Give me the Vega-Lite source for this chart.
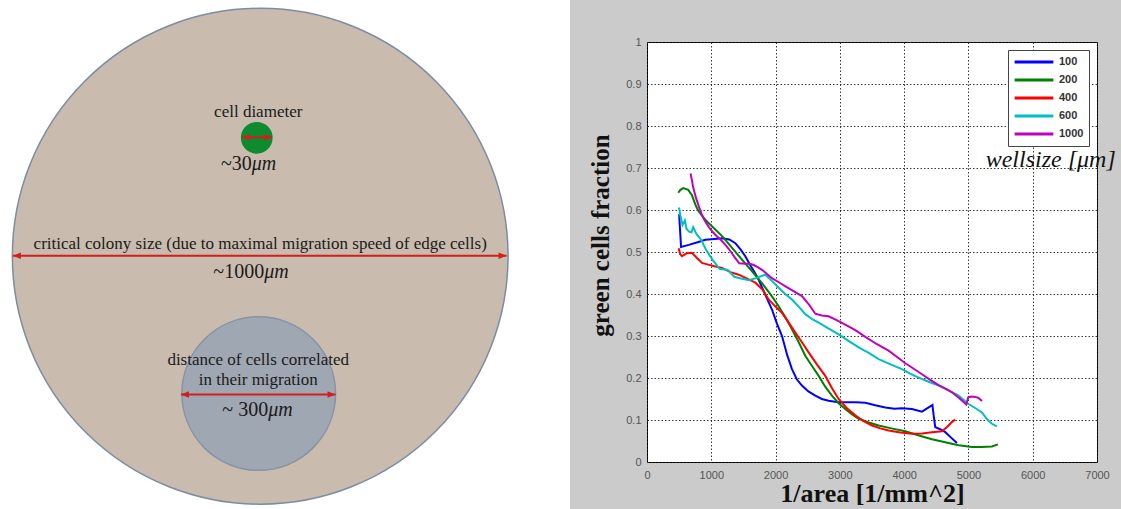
{
  "$schema": "https://vega.github.io/schema/vega-lite/v6.json",
  "background": "#cbcbcb",
  "padding": {"left": 0, "top": 0, "right": 4, "bottom": 0},
  "spacing": 18,
  "resolve": {"legend": {"color": "independent", "fill": "independent", "stroke": "independent", "shape": "independent", "size": "independent"}},
  "datasets": {
    "shapes": [
      {"kind": "colony", "x": 0, "y": 0, "diameter": 1000},
      {"kind": "correlated", "x": -3, "y": -277, "diameter": 310},
      {"kind": "cell", "x": -7, "y": 239, "diameter": 61}
    ],
    "arrows": [
      {"name": "cell", "x": -37, "x2": 24, "y": 240},
      {"name": "colony", "x": -499, "x2": 497, "y": 1},
      {"name": "correlated", "x": -160, "x2": 152, "y": -279}
    ],
    "heads": [
      {"end": "left", "x": -37, "y": 240},
      {"end": "right", "x": 24, "y": 240},
      {"end": "left", "x": -499, "y": 1},
      {"end": "right", "x": 497, "y": 1},
      {"end": "left", "x": -160, "y": -279},
      {"end": "right", "x": 152, "y": -279}
    ],
    "labels": [
      {"x": -4, "y": 292, "text": "cell diameter"},
      {"x": 0, "y": 25, "text": "critical colony size (due to maximal migration speed of edge cells)"},
      {"x": -4, "y": -209, "text": "distance of cells correlated"},
      {"x": -4, "y": -250, "text": "in their migration"}
    ],
    "math": [
      {"x": -17, "y": 186, "num": "~30", "unit": "μm"},
      {"x": 8, "y": -32, "num": "~1000", "unit": "μm"},
      {"x": 16, "y": -310, "num": "~ 300", "unit": "μm"}
    ],
    "curves": [
      {"wellsize": "100", "x": 500, "y": 0.59}, {"wellsize": "100", "x": 515, "y": 0.55}, {"wellsize": "100", "x": 530, "y": 0.512},
      {"wellsize": "100", "x": 650, "y": 0.517}, {"wellsize": "100", "x": 800, "y": 0.524}, {"wellsize": "100", "x": 907, "y": 0.529},
      {"wellsize": "100", "x": 1050, "y": 0.531}, {"wellsize": "100", "x": 1166, "y": 0.533}, {"wellsize": "100", "x": 1280, "y": 0.53},
      {"wellsize": "100", "x": 1374, "y": 0.521}, {"wellsize": "100", "x": 1460, "y": 0.505}, {"wellsize": "100", "x": 1529, "y": 0.49},
      {"wellsize": "100", "x": 1600, "y": 0.47}, {"wellsize": "100", "x": 1680, "y": 0.45}, {"wellsize": "100", "x": 1737, "y": 0.434},
      {"wellsize": "100", "x": 1850, "y": 0.395}, {"wellsize": "100", "x": 1944, "y": 0.363}, {"wellsize": "100", "x": 2020, "y": 0.33},
      {"wellsize": "100", "x": 2100, "y": 0.3}, {"wellsize": "100", "x": 2180, "y": 0.255}, {"wellsize": "100", "x": 2255, "y": 0.221},
      {"wellsize": "100", "x": 2330, "y": 0.197}, {"wellsize": "100", "x": 2410, "y": 0.182}, {"wellsize": "100", "x": 2510, "y": 0.168},
      {"wellsize": "100", "x": 2618, "y": 0.158}, {"wellsize": "100", "x": 2720, "y": 0.15}, {"wellsize": "100", "x": 2825, "y": 0.146},
      {"wellsize": "100", "x": 2950, "y": 0.143}, {"wellsize": "100", "x": 3084, "y": 0.142}, {"wellsize": "100", "x": 3250, "y": 0.142},
      {"wellsize": "100", "x": 3396, "y": 0.141}, {"wellsize": "100", "x": 3550, "y": 0.135}, {"wellsize": "100", "x": 3707, "y": 0.13},
      {"wellsize": "100", "x": 3850, "y": 0.127}, {"wellsize": "100", "x": 3966, "y": 0.128}, {"wellsize": "100", "x": 4121, "y": 0.126},
      {"wellsize": "100", "x": 4277, "y": 0.12}, {"wellsize": "100", "x": 4400, "y": 0.132}, {"wellsize": "100", "x": 4440, "y": 0.136},
      {"wellsize": "100", "x": 4460, "y": 0.11}, {"wellsize": "100", "x": 4484, "y": 0.083}, {"wellsize": "100", "x": 4560, "y": 0.078},
      {"wellsize": "100", "x": 4640, "y": 0.071}, {"wellsize": "100", "x": 4730, "y": 0.058}, {"wellsize": "100", "x": 4821, "y": 0.045},

      {"wellsize": "200", "x": 487, "y": 0.641}, {"wellsize": "200", "x": 520, "y": 0.648}, {"wellsize": "200", "x": 564, "y": 0.652},
      {"wellsize": "200", "x": 641, "y": 0.648}, {"wellsize": "200", "x": 700, "y": 0.635}, {"wellsize": "200", "x": 760, "y": 0.61},
      {"wellsize": "200", "x": 795, "y": 0.599}, {"wellsize": "200", "x": 872, "y": 0.583}, {"wellsize": "200", "x": 950, "y": 0.57},
      {"wellsize": "200", "x": 1026, "y": 0.559}, {"wellsize": "200", "x": 1179, "y": 0.536}, {"wellsize": "200", "x": 1333, "y": 0.508},
      {"wellsize": "200", "x": 1487, "y": 0.48}, {"wellsize": "200", "x": 1641, "y": 0.453}, {"wellsize": "200", "x": 1795, "y": 0.425},
      {"wellsize": "200", "x": 1949, "y": 0.393}, {"wellsize": "200", "x": 2048, "y": 0.371}, {"wellsize": "200", "x": 2150, "y": 0.345},
      {"wellsize": "200", "x": 2255, "y": 0.316}, {"wellsize": "200", "x": 2360, "y": 0.285}, {"wellsize": "200", "x": 2462, "y": 0.253},
      {"wellsize": "200", "x": 2570, "y": 0.228}, {"wellsize": "200", "x": 2670, "y": 0.205}, {"wellsize": "200", "x": 2770, "y": 0.18},
      {"wellsize": "200", "x": 2877, "y": 0.158}, {"wellsize": "200", "x": 2980, "y": 0.14}, {"wellsize": "200", "x": 3084, "y": 0.126},
      {"wellsize": "200", "x": 3190, "y": 0.113}, {"wellsize": "200", "x": 3292, "y": 0.103}, {"wellsize": "200", "x": 3450, "y": 0.094},
      {"wellsize": "200", "x": 3603, "y": 0.087}, {"wellsize": "200", "x": 3800, "y": 0.08}, {"wellsize": "200", "x": 4018, "y": 0.073},
      {"wellsize": "200", "x": 4230, "y": 0.063}, {"wellsize": "200", "x": 4432, "y": 0.054}, {"wellsize": "200", "x": 4640, "y": 0.047},
      {"wellsize": "200", "x": 4847, "y": 0.04}, {"wellsize": "200", "x": 5054, "y": 0.036}, {"wellsize": "200", "x": 5200, "y": 0.036},
      {"wellsize": "200", "x": 5365, "y": 0.037}, {"wellsize": "200", "x": 5458, "y": 0.042},

      {"wellsize": "400", "x": 492, "y": 0.509}, {"wellsize": "400", "x": 515, "y": 0.495}, {"wellsize": "400", "x": 544, "y": 0.49},
      {"wellsize": "400", "x": 620, "y": 0.497}, {"wellsize": "400", "x": 700, "y": 0.498}, {"wellsize": "400", "x": 780, "y": 0.485},
      {"wellsize": "400", "x": 855, "y": 0.474}, {"wellsize": "400", "x": 950, "y": 0.47}, {"wellsize": "400", "x": 1050, "y": 0.466},
      {"wellsize": "400", "x": 1166, "y": 0.462}, {"wellsize": "400", "x": 1300, "y": 0.452}, {"wellsize": "400", "x": 1426, "y": 0.446},
      {"wellsize": "400", "x": 1550, "y": 0.437}, {"wellsize": "400", "x": 1685, "y": 0.427}, {"wellsize": "400", "x": 1800, "y": 0.41},
      {"wellsize": "400", "x": 1892, "y": 0.387}, {"wellsize": "400", "x": 2000, "y": 0.37}, {"wellsize": "400", "x": 2100, "y": 0.355},
      {"wellsize": "400", "x": 2200, "y": 0.333}, {"wellsize": "400", "x": 2307, "y": 0.308}, {"wellsize": "400", "x": 2410, "y": 0.285},
      {"wellsize": "400", "x": 2514, "y": 0.261}, {"wellsize": "400", "x": 2640, "y": 0.233}, {"wellsize": "400", "x": 2773, "y": 0.205},
      {"wellsize": "400", "x": 2880, "y": 0.175}, {"wellsize": "400", "x": 2981, "y": 0.15}, {"wellsize": "400", "x": 3110, "y": 0.128},
      {"wellsize": "400", "x": 3240, "y": 0.111}, {"wellsize": "400", "x": 3370, "y": 0.097}, {"wellsize": "400", "x": 3499, "y": 0.087},
      {"wellsize": "400", "x": 3630, "y": 0.08}, {"wellsize": "400", "x": 3758, "y": 0.075}, {"wellsize": "400", "x": 3940, "y": 0.07},
      {"wellsize": "400", "x": 4121, "y": 0.067}, {"wellsize": "400", "x": 4280, "y": 0.068}, {"wellsize": "400", "x": 4432, "y": 0.071},
      {"wellsize": "400", "x": 4588, "y": 0.073}, {"wellsize": "400", "x": 4640, "y": 0.08}, {"wellsize": "400", "x": 4692, "y": 0.087},
      {"wellsize": "400", "x": 4740, "y": 0.095}, {"wellsize": "400", "x": 4795, "y": 0.101},

      {"wellsize": "600", "x": 498, "y": 0.606}, {"wellsize": "600", "x": 520, "y": 0.585}, {"wellsize": "600", "x": 554, "y": 0.565},
      {"wellsize": "600", "x": 590, "y": 0.575}, {"wellsize": "600", "x": 615, "y": 0.555}, {"wellsize": "600", "x": 660, "y": 0.548},
      {"wellsize": "600", "x": 692, "y": 0.547}, {"wellsize": "600", "x": 718, "y": 0.559}, {"wellsize": "600", "x": 769, "y": 0.543},
      {"wellsize": "600", "x": 846, "y": 0.528}, {"wellsize": "600", "x": 923, "y": 0.504}, {"wellsize": "600", "x": 1026, "y": 0.48},
      {"wellsize": "600", "x": 1128, "y": 0.46}, {"wellsize": "600", "x": 1256, "y": 0.457}, {"wellsize": "600", "x": 1359, "y": 0.441},
      {"wellsize": "600", "x": 1462, "y": 0.437}, {"wellsize": "600", "x": 1590, "y": 0.433}, {"wellsize": "600", "x": 1718, "y": 0.439},
      {"wellsize": "600", "x": 1840, "y": 0.446}, {"wellsize": "600", "x": 1950, "y": 0.43}, {"wellsize": "600", "x": 2048, "y": 0.415},
      {"wellsize": "600", "x": 2150, "y": 0.4}, {"wellsize": "600", "x": 2255, "y": 0.387}, {"wellsize": "600", "x": 2360, "y": 0.37},
      {"wellsize": "600", "x": 2462, "y": 0.352}, {"wellsize": "600", "x": 2570, "y": 0.34}, {"wellsize": "600", "x": 2670, "y": 0.332},
      {"wellsize": "600", "x": 2820, "y": 0.318}, {"wellsize": "600", "x": 2981, "y": 0.304}, {"wellsize": "600", "x": 3140, "y": 0.288},
      {"wellsize": "600", "x": 3292, "y": 0.273}, {"wellsize": "600", "x": 3450, "y": 0.26}, {"wellsize": "600", "x": 3603, "y": 0.245},
      {"wellsize": "600", "x": 3780, "y": 0.233}, {"wellsize": "600", "x": 3966, "y": 0.221}, {"wellsize": "600", "x": 4100, "y": 0.21},
      {"wellsize": "600", "x": 4225, "y": 0.201}, {"wellsize": "600", "x": 4380, "y": 0.191}, {"wellsize": "600", "x": 4536, "y": 0.182},
      {"wellsize": "600", "x": 4700, "y": 0.17}, {"wellsize": "600", "x": 4847, "y": 0.158}, {"wellsize": "600", "x": 5002, "y": 0.138},
      {"wellsize": "600", "x": 5110, "y": 0.128}, {"wellsize": "600", "x": 5210, "y": 0.118}, {"wellsize": "600", "x": 5300, "y": 0.1},
      {"wellsize": "600", "x": 5365, "y": 0.091}, {"wellsize": "600", "x": 5443, "y": 0.085},

      {"wellsize": "1000", "x": 677, "y": 0.687}, {"wellsize": "1000", "x": 700, "y": 0.67}, {"wellsize": "1000", "x": 718, "y": 0.654},
      {"wellsize": "1000", "x": 760, "y": 0.63}, {"wellsize": "1000", "x": 810, "y": 0.607}, {"wellsize": "1000", "x": 850, "y": 0.59},
      {"wellsize": "1000", "x": 897, "y": 0.575}, {"wellsize": "1000", "x": 960, "y": 0.56}, {"wellsize": "1000", "x": 1026, "y": 0.547},
      {"wellsize": "1000", "x": 1090, "y": 0.537}, {"wellsize": "1000", "x": 1154, "y": 0.528}, {"wellsize": "1000", "x": 1230, "y": 0.515},
      {"wellsize": "1000", "x": 1308, "y": 0.5}, {"wellsize": "1000", "x": 1370, "y": 0.486}, {"wellsize": "1000", "x": 1436, "y": 0.473},
      {"wellsize": "1000", "x": 1538, "y": 0.472}, {"wellsize": "1000", "x": 1600, "y": 0.472}, {"wellsize": "1000", "x": 1660, "y": 0.469},
      {"wellsize": "1000", "x": 1720, "y": 0.464}, {"wellsize": "1000", "x": 1795, "y": 0.457}, {"wellsize": "1000", "x": 1870, "y": 0.447},
      {"wellsize": "1000", "x": 1949, "y": 0.437}, {"wellsize": "1000", "x": 2050, "y": 0.428}, {"wellsize": "1000", "x": 2154, "y": 0.418},
      {"wellsize": "1000", "x": 2280, "y": 0.407}, {"wellsize": "1000", "x": 2410, "y": 0.395}, {"wellsize": "1000", "x": 2520, "y": 0.375},
      {"wellsize": "1000", "x": 2618, "y": 0.353}, {"wellsize": "1000", "x": 2720, "y": 0.349}, {"wellsize": "1000", "x": 2825, "y": 0.347},
      {"wellsize": "1000", "x": 2950, "y": 0.338}, {"wellsize": "1000", "x": 3084, "y": 0.327}, {"wellsize": "1000", "x": 3240, "y": 0.314},
      {"wellsize": "1000", "x": 3396, "y": 0.298}, {"wellsize": "1000", "x": 3570, "y": 0.281}, {"wellsize": "1000", "x": 3758, "y": 0.265},
      {"wellsize": "1000", "x": 3890, "y": 0.25}, {"wellsize": "1000", "x": 4018, "y": 0.235}, {"wellsize": "1000", "x": 4150, "y": 0.222},
      {"wellsize": "1000", "x": 4277, "y": 0.209}, {"wellsize": "1000", "x": 4400, "y": 0.196}, {"wellsize": "1000", "x": 4536, "y": 0.183},
      {"wellsize": "1000", "x": 4650, "y": 0.174}, {"wellsize": "1000", "x": 4743, "y": 0.166}, {"wellsize": "1000", "x": 4850, "y": 0.153},
      {"wellsize": "1000", "x": 4924, "y": 0.143}, {"wellsize": "1000", "x": 4967, "y": 0.137}, {"wellsize": "1000", "x": 4997, "y": 0.154},
      {"wellsize": "1000", "x": 5050, "y": 0.156}, {"wellsize": "1000", "x": 5112, "y": 0.155}, {"wellsize": "1000", "x": 5160, "y": 0.152},
      {"wellsize": "1000", "x": 5211, "y": 0.145}
    ]
  },
  "hconcat": [
    {
      "width": 570,
      "height": 509,
      "view": {"fill": "white", "stroke": null},
      "encoding": {
        "x": {"field": "x", "type": "quantitative", "scale": {"domain": [-525, 625]}, "axis": null},
        "y": {"field": "y", "type": "quantitative", "scale": {"domain": [-510, 517]}, "axis": null}
      },
      "layer": [
        {
          "data": {"name": "shapes"},
          "mark": {"type": "point", "shape": "circle", "filled": true, "opacity": 1, "strokeWidth": 1.5},
          "encoding": {
            "size": {"field": "diameter", "type": "quantitative", "scale": {"type": "pow", "exponent": 2, "domain": [0, 1000], "range": [0, 245700]}, "legend": null},
            "fill": {"field": "kind", "type": "nominal", "scale": {"domain": ["colony", "correlated", "cell"], "range": ["#c9bcaf", "#9fa7b3", "#0f8b2f"]}, "legend": null},
            "stroke": {"field": "kind", "type": "nominal", "scale": {"domain": ["colony", "correlated", "cell"], "range": ["#7b8ca3", "#8593a6", "#0f8b2f"]}, "legend": null}
          }
        },
        {
          "data": {"name": "arrows"},
          "mark": {"type": "rule", "color": "#d41e1e", "strokeWidth": 2},
          "encoding": {"x2": {"field": "x2"}}
        },
        {
          "data": {"name": "heads"},
          "mark": {"type": "point", "filled": true, "opacity": 1, "size": 64, "color": "#d41e1e"},
          "encoding": {
            "shape": {"field": "end", "type": "nominal", "scale": {"domain": ["left", "right"], "range": ["M0,0L2,-0.8L2,0.8Z", "M0,0L-2,-0.8L-2,0.8Z"]}, "legend": null}
          }
        },
        {
          "data": {"name": "labels"},
          "mark": {"type": "text", "font": "Liberation Serif", "fontSize": 17, "color": "#1a1a1a", "align": "center", "baseline": "middle"},
          "encoding": {"text": {"field": "text"}}
        },
        {
          "data": {"name": "math"},
          "mark": {"type": "text", "font": "Liberation Serif", "fontSize": 20, "color": "#1a1a1a", "align": "right", "baseline": "middle"},
          "encoding": {"text": {"field": "num"}}
        },
        {
          "data": {"name": "math"},
          "mark": {"type": "text", "font": "Liberation Serif", "fontStyle": "italic", "fontSize": 20, "color": "#1a1a1a", "align": "left", "baseline": "middle"},
          "encoding": {"text": {"field": "unit"}}
        }
      ]
    },
    {
      "spacing": 0,
      "resolve": {"legend": {"color": "independent"}},
      "vconcat": [
        {
          "width": 450,
          "height": 35,
          "view": {"stroke": null, "fill": null},
          "data": {"values": []},
          "mark": "text"
        },
        {
          "width": 450,
          "height": 420,
          "view": {"fill": "white", "stroke": "#000000", "strokeWidth": 1},
          "layer": [
            {
              "data": {"name": "curves"},
              "mark": {"type": "line", "strokeWidth": 2},
              "encoding": {
                "x": {
                  "field": "x", "type": "quantitative",
                  "scale": {"domain": [0, 7000], "nice": false},
                  "axis": {
                    "values": [0, 1000, 2000, 3000, 4000, 5000, 6000, 7000], "format": "d",
                    "title": "1/area [1/mm^2]", "labelFlush": false,
                    "ticks": false, "domain": false, "grid": true,
                    "gridDash": [1.5, 2], "gridColor": "#222222", "gridOpacity": 0.9,
                    "labelFont": "Liberation Sans", "labelFontSize": 11, "labelColor": "#555555", "labelPadding": 7,
                    "titleFont": "Liberation Serif", "titleFontSize": 26, "titleFontWeight": "bold", "titleColor": "#111111", "titlePadding": 0
                  }
                },
                "y": {
                  "field": "y", "type": "quantitative",
                  "scale": {"domain": [0, 1], "nice": false},
                  "axis": {
                    "values": [0, 0.1, 0.2, 0.3, 0.4, 0.5, 0.6, 0.7, 0.8, 0.9, 1], "format": "~g",
                    "title": "green cells fraction", "labelFlush": false,
                    "ticks": false, "domain": false, "grid": true,
                    "gridDash": [1.5, 2], "gridColor": "#222222", "gridOpacity": 0.9,
                    "labelFont": "Liberation Sans", "labelFontSize": 11, "labelColor": "#555555", "labelPadding": 6,
                    "titleFont": "Liberation Serif", "titleFontSize": 25, "titleFontWeight": "bold", "titleColor": "#111111", "titlePadding": 12,
                    "titleY": 193
                  }
                },
                "color": {
                  "field": "wellsize", "type": "nominal",
                  "scale": {"domain": ["100", "200", "400", "600", "1000"], "range": ["#0000ff", "#008000", "#ff0000", "#00bfbf", "#bf00bf"]},
                  "legend": {
                    "title": null, "orient": "top-right", "offset": 8,
                    "symbolType": "stroke", "symbolStrokeWidth": 3, "symbolSize": 1500, "clipHeight": 14,
                    "rowPadding": 4, "padding": 5,
                    "labelFont": "Liberation Sans", "labelFontSize": 11, "labelFontWeight": "bold", "labelColor": "#333333",
                    "strokeColor": "#444444", "fillColor": "#ffffff"
                  }
                }
              }
            },
            {
              "data": {"values": [{"x": 6280, "y": 0.72, "t": "wellsize [μm]"}]},
              "mark": {"type": "text", "font": "Liberation Serif", "fontStyle": "italic", "fontSize": 24, "color": "#111111", "align": "center", "baseline": "middle"},
              "encoding": {
                "x": {"field": "x", "type": "quantitative"},
                "y": {"field": "y", "type": "quantitative"},
                "text": {"field": "t"}
              }
            }
          ]
        }
      ]
    }
  ]
}
